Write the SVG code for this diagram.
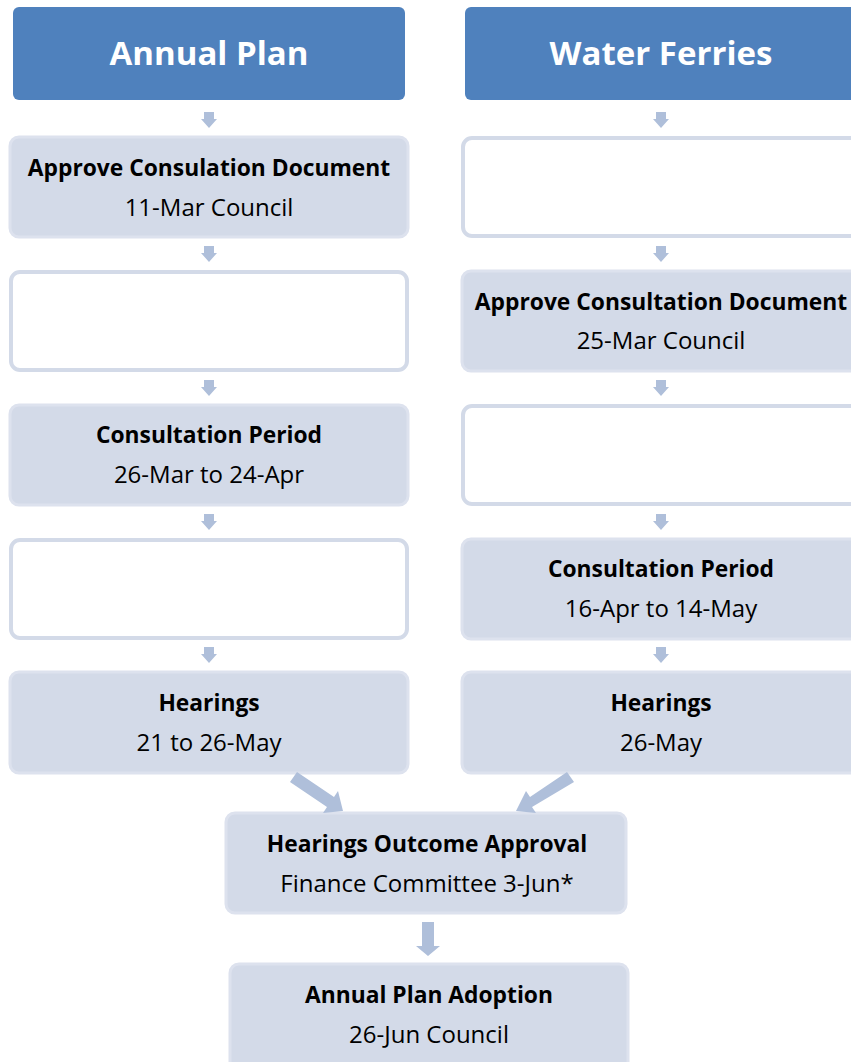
<svg xmlns="http://www.w3.org/2000/svg" width="851" height="1062" viewBox="0 0 851 1062">
<style>
.hdr{fill:#4F81BD;}
.ht{font-family:"Open Sans","Noto Sans",sans-serif;font-weight:bold;font-size:33px;fill:#fff;text-anchor:middle;}
.box{fill:#D3DAE8;stroke:#DDE2EE;stroke-width:3;}
.ebox{fill:#fff;stroke:#D3DAE8;stroke-width:4;}
.b{font-family:"Open Sans","Noto Sans",sans-serif;font-weight:bold;font-size:22.8px;fill:#000;text-anchor:middle;}
.r{font-family:"Open Sans","Noto Sans",sans-serif;font-size:24px;fill:#000;text-anchor:middle;}
.arr{fill:#AFBFDA;}
</style>
<g id="hdr-annual"><rect class="hdr" x="13" y="7" width="392" height="93" rx="6"/><text class="ht" x="209" y="65">Annual Plan</text></g>
<g id="hdr-water"><rect class="hdr" x="465" y="7" width="392" height="93" rx="6"/><text class="ht" x="661" y="65">Water Ferries</text></g>

<g id="a1"><rect class="box" x="10" y="137" width="398" height="100" rx="9"/><text class="b" x="209" y="176">Approve Consulation Document</text><text class="r" x="209" y="216">11-Mar Council</text></g>
<g id="a2"><rect class="ebox" x="11" y="272" width="396" height="98" rx="9"/></g>
<g id="a3"><rect class="box" x="10" y="405" width="398" height="100" rx="9"/><text class="b" x="209" y="443">Consultation Period</text><text class="r" x="209" y="483">26-Mar to 24-Apr</text></g>
<g id="a4"><rect class="ebox" x="11" y="540" width="396" height="98" rx="9"/></g>
<g id="a5"><rect class="box" x="10" y="672" width="398" height="101" rx="9"/><text class="b" x="209" y="711">Hearings</text><text class="r" x="209" y="751">21 to 26-May</text></g>

<g id="w1"><rect class="ebox" x="463" y="138" width="396" height="98" rx="9"/></g>
<g id="w2"><rect class="box" x="462" y="271" width="398" height="100" rx="9"/><text class="b" x="661" y="310">Approve Consultation Document</text><text class="r" x="661" y="349">25-Mar Council</text></g>
<g id="w3"><rect class="ebox" x="463" y="406" width="396" height="98" rx="9"/></g>
<g id="w4"><rect class="box" x="462" y="539" width="398" height="100" rx="9"/><text class="b" x="661" y="577">Consultation Period</text><text class="r" x="661" y="617">16-Apr to 14-May</text></g>
<g id="w5"><rect class="box" x="462" y="672" width="398" height="101" rx="9"/><text class="b" x="661" y="711">Hearings</text><text class="r" x="661" y="751">26-May</text></g>

<g id="outcome"><rect class="box" x="226" y="813" width="400" height="100" rx="9"/><text class="b" x="427" y="852">Hearings Outcome Approval</text><text class="r" x="427" y="892">Finance Committee 3-Jun*</text></g>
<g id="adoption"><rect class="box" x="230" y="964" width="398" height="110" rx="9"/><text class="b" x="429" y="1003">Annual Plan Adoption</text><text class="r" x="429" y="1043">26-Jun Council</text></g>

<g id="connectors">
<defs><path id="sa" d="M-5,0 H5 V7 H8 L0,16 L-8,7 H-5 Z"/></defs>
<use href="#sa" class="arr" x="209" y="112"/>
<use href="#sa" class="arr" x="661" y="112"/>
<use href="#sa" class="arr" x="209" y="246"/>
<use href="#sa" class="arr" x="661" y="246"/>
<use href="#sa" class="arr" x="209" y="380"/>
<use href="#sa" class="arr" x="661" y="380"/>
<use href="#sa" class="arr" x="209" y="514"/>
<use href="#sa" class="arr" x="661" y="514"/>
<use href="#sa" class="arr" x="209" y="647"/>
<use href="#sa" class="arr" x="661" y="647"/>
<path class="arr" d="M297,772 L334,797 L338,791 L343,811 L323,813 L327,807 L290,782 Z"/>
<path class="arr" d="M567,772 L530,797 L526,791 L516,811 L536,813 L532,807 L574,782 Z"/>
<path class="arr" d="M422,922 H434 V946 H440 L428,956 L416,946 H422 Z"/>
</g>
</svg>
